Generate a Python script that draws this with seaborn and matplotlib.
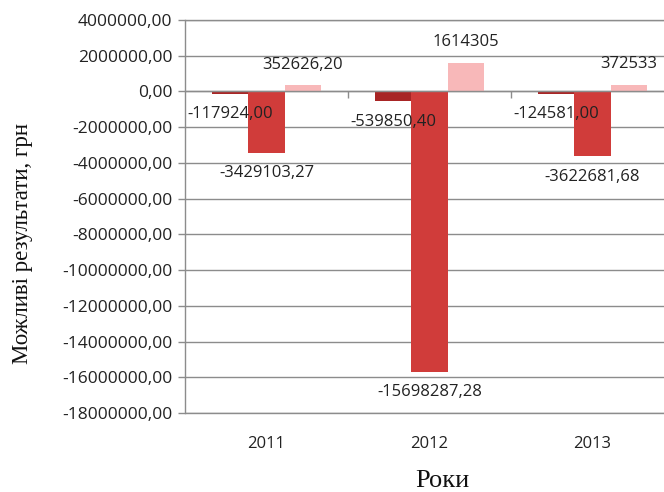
import matplotlib
matplotlib.use("Agg")
import matplotlib.pyplot as plt
import matplotlib.transforms as mtransforms
from matplotlib.ticker import FuncFormatter, MultipleLocator
import seaborn as sns
import pandas as pd

years = ["2011", "2012", "2013"]
series_names = ["Сценарій 1", "Сценарій 2", "Сценарій 3"]
series1 = [-117924.00, -539850.40, -124581.00]
series2 = [-3429103.27, -15698287.28, -3622681.68]
series3 = [352626.20, 1614305, 372533]
labels1 = ["-117924,00", "-539850,40", "-124581,00"]
labels2 = ["-3429103,27", "-15698287,28", "-3622681,68"]
labels3 = ["352626,20", "1614305", "372533"]
colors = ["#A82525", "#D03C3A", "#F8B8B9"]

y_min, y_max, y_step = -18000000, 4000000, 2000000

rows = []
for name, vals in zip(series_names, [series1, series2, series3]):
    for yr, v in zip(years, vals):
        rows.append({"year": yr, "series": name, "value": v})
df = pd.DataFrame(rows)

sns.set_theme(style="white")
plt.rcParams["font.family"] = ["Open Sans", "DejaVu Sans"]

fig = plt.figure(figsize=(6.64, 4.92), dpi=100)
ax = fig.add_axes([185 / 664, (492 - 413) / 492, (674 - 185) / 664, 393 / 492])

sns.barplot(data=df, x="year", y="value", hue="series", palette=colors,
            width=0.667, ax=ax, legend=False, saturation=1, errorbar=None,
            linewidth=0)

ax.set_ylim(y_min, y_max)
ax.set_xlim(-0.5, 2.5)
ax.yaxis.set_major_locator(MultipleLocator(y_step))
ax.yaxis.set_major_formatter(FuncFormatter(lambda v, p: f"{v:.2f}".replace(".", ",")))
ax.grid(axis="y", color="#8c8c8c", linewidth=1.0)
ax.set_axisbelow(True)
ax.axhline(y_min, color="#8c8c8c", linewidth=1.0, clip_on=False, zorder=0.5)
ax.axhline(y_max, color="#8c8c8c", linewidth=1.0, clip_on=False, zorder=0.5)

for s in ["top", "right"]:
    ax.spines[s].set_visible(False)
ax.spines["left"].set_color("#8c8c8c")
ax.spines["left"].set_linewidth(1.0)
ax.spines["bottom"].set_position(("data", 0))
ax.spines["bottom"].set_color("#8c8c8c")
ax.spines["bottom"].set_linewidth(1.0)

ax.tick_params(axis="y", which="major", left=True, length=5, width=1, color="#8c8c8c",
               labelsize=12.5, labelcolor="#222222", pad=4)
ax.set_xticks([0.5, 1.5])
ax.set_xticklabels(["", ""])
ax.tick_params(axis="x", which="major", bottom=True, direction="out", length=5, width=1,
               color="#8c8c8c")

trans = mtransforms.blended_transform_factory(ax.transData, ax.transAxes)
for i, yr in enumerate(years):
    ax.text(i, -0.078, yr, transform=trans, ha="center", va="center",
            fontsize=12, color="#222222")

for cont, labs in zip(ax.containers, [labels1, labels2, labels3]):
    ax.bar_label(cont, labels=labs, padding=9, fontsize=12, color="#222222")

ax.set_xlabel("")
ax.set_ylabel("")
fig.text(23 / 664, 1 - 244 / 492, "Можливі результати, грн", rotation=90,
         ha="center", va="center", fontsize=16.5, family="Liberation Serif", color="#111111")
fig.text(442 / 664, 1 - 481 / 492, "Роки", ha="center", va="center",
         fontsize=19, family="Liberation Serif", color="#111111")

fig.savefig("out.png", dpi=100)
